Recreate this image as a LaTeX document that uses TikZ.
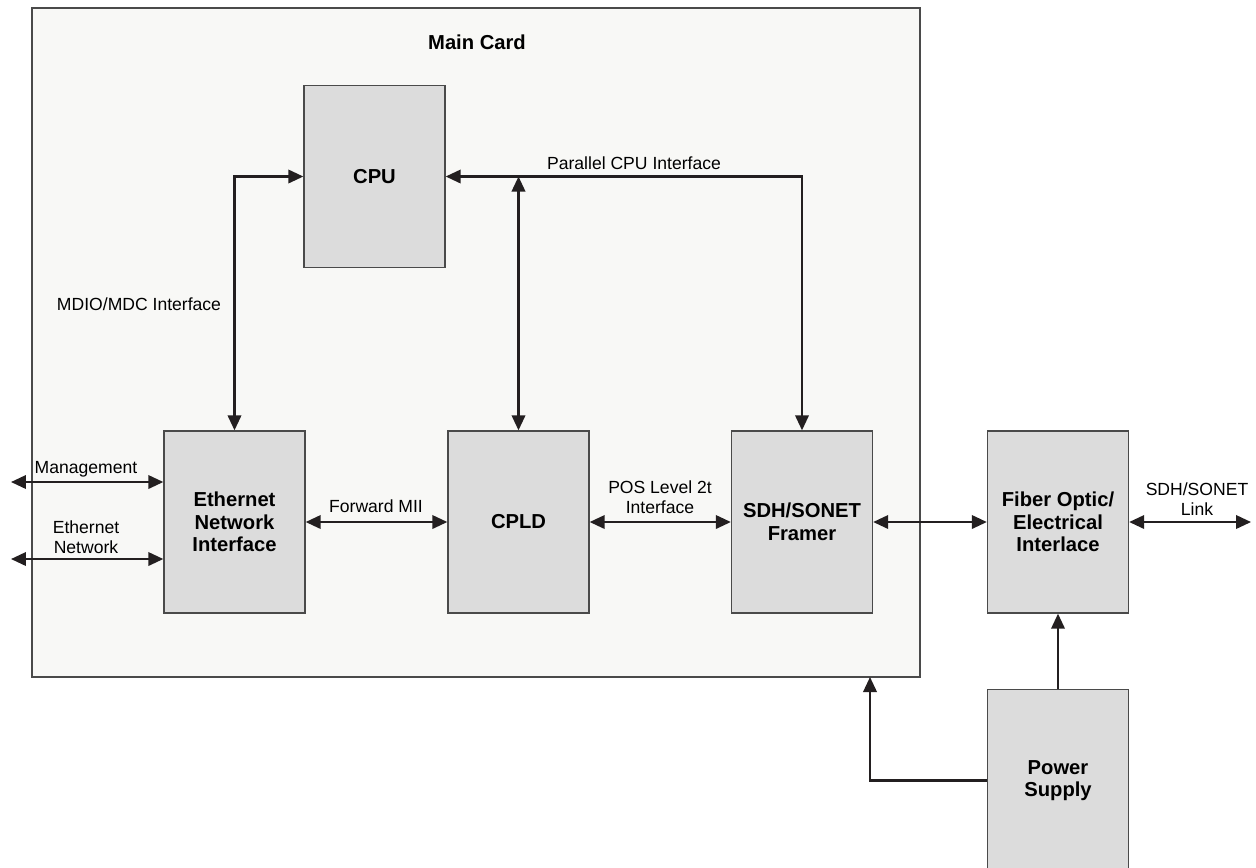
\documentclass[tikz,border=0pt]{standalone}
\usepackage{fontspec}
\setmainfont{Liberation Sans}
\usepackage{xcolor}
\usepackage{tikz}
\usetikzlibrary{positioning,arrows.meta}
\definecolor{CardBg}{HTML}{F8F8F6}
\definecolor{BlockBg}{HTML}{DCDCDC}
\definecolor{EdgeGray}{HTML}{4A4A4A}
\definecolor{WireDark}{HTML}{231F20}

\tikzset{
  card/.style={draw=EdgeGray, fill=CardBg, line width=0.8pt, inner sep=0pt},
  block/.style={draw=EdgeGray, fill=BlockBg, line width=0.8pt, inner sep=0pt,
    minimum width=2.82cm, minimum height=3.64cm, align=center,
    font=\fontsize{11.5}{12.8}\selectfont\bfseries},
  wire/.style={draw=WireDark, line width=1.2pt,
    arrows={-Triangle[length=0.3cm, width=0.27cm]}},
  biwire/.style={wire, arrows={Triangle[length=0.3cm, width=0.27cm]-Triangle[length=0.3cm, width=0.27cm]}},
  tag/.style={align=center, inner sep=0pt, text=black,
    font=\fontsize{10}{11.4}\selectfont}
}

\begin{document}
\begin{tikzpicture}[x=0.02cm, y=-0.02cm]
  \useasboundingbox (0,0) rectangle (1256,867);

  % main card
  \node[card, minimum width=17.76cm, minimum height=13.38cm] (maincard) at (476,342.5) {};
  \node[tag, font=\fontsize{11.5}{12.8}\selectfont\bfseries] (cardtitle) at (477,42) {Main Card};

  % blocks
  \node[block] (cpu) at (374.5,176.5) {CPU};
  \node[block] (eth) at (234.5,522) {Ethernet\\Network\\Interface};
  \node[block] (cpld) at (518.5,522) {CPLD};
  \node[block] (framer) at (802,522) {SDH/SONET\\Framer};
  \node[block] (fiber) at (1058,522) {Fiber Optic/\\Electrical\\Interlace};
  \node[block] (psu) at (1058,780.5) {Power\\Supply};

  % free ends
  \coordinate (mgmtend) at (11,482);
  \coordinate (ethnetend) at (11,559);
  \coordinate (linkend) at (1251,522);
  \coordinate (cardin) at (870,677);

  % connectors
  \draw[biwire] (cpu.west) -| (eth.north);
  \draw[biwire] (cpu.east) -| (framer.north);
  \draw[biwire] (cpld.north) -- (cpld.north |- cpu.east);
  \draw[biwire] (mgmtend) -- (mgmtend -| eth.west);
  \draw[biwire] (ethnetend) -- (ethnetend -| eth.west);
  \draw[biwire] (eth.east) -- (cpld.west);
  \draw[biwire] (cpld.east) -- (framer.west);
  \draw[biwire] (framer.east) -- (fiber.west);
  \draw[biwire] (fiber.east) -- (linkend);
  \draw[wire] (psu.north) -- (fiber.south);
  \draw[wire] (psu.west) -| (cardin);

  % labels
  \node[tag] (mdiolbl) at (139,304) {MDIO/MDC Interface};
  \node[tag] (parlbl) at (634,163) {Parallel CPU Interface};
  \node[tag] (mgmtlbl) at (86,469) {Management};
  \node[tag] (ethnetlbl) at (86,537) {Ethernet\\Network};
  \node[tag] (miilbl) at (376,506) {Forward MII};
  \node[tag] (poslbl) at (660,497) {POS Level 2t\\Interface};
  \node[tag] (linklbl) at (1197,499) {SDH/SONET\\Link};
\end{tikzpicture}
\end{document}
